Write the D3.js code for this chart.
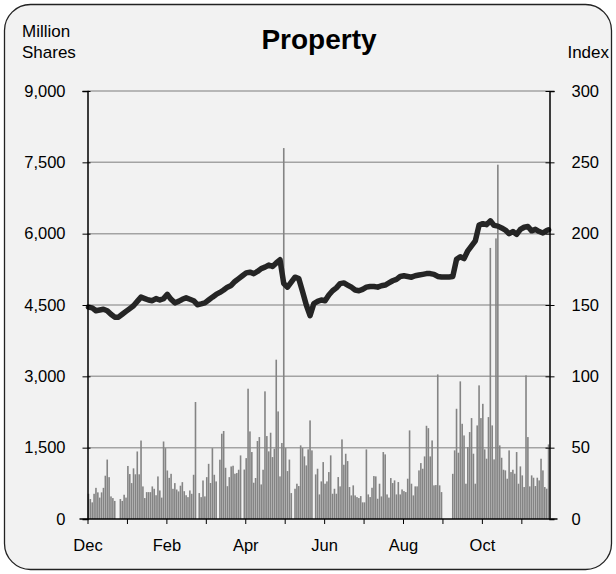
<!DOCTYPE html>
<html><head><meta charset="utf-8">
<script src="https://cdn.jsdelivr.net/npm/d3@7"></script>
<style>
html,body{margin:0;padding:0;background:#fff;}
svg text{font-family:"Liberation Sans",Arial,sans-serif;fill:#000;}
</style></head>
<body>
<svg id="chart" width="616" height="574"></svg>
<script>
// ---------- DATA ----------
const title = "Property";
const leftTicks = [0,1500,3000,4500,6000,7500,9000];
const rightTicks = [0,50,100,150,200,250,300];
const monthNames = ["Dec","Jan","Feb","Mar","Apr","May","Jun","Jul","Aug","Sep","Oct","Nov"];
const monthLabelsShown = ["Dec","Feb","Apr","Jun","Aug","Oct"];
const monthStartDay = [0,21,42,63,84,105,126,147,168,189,210,231];
const nDays = 246;
// daily turnover, million shares
const volume = [
530,420,350,530,655,560,450,560,655,910,1250,880,475,440,380,0,0,420,380,510,
450,1115,945,755,1065,940,1420,940,1650,685,440,565,565,565,685,635,500,895,600,450,
1630,1490,1020,865,950,635,755,620,580,700,775,585,500,460,600,530,930,2460,0,545,
460,810,475,880,1160,757,1490,930,790,0,1247,1793,1850,1077,690,880,1105,1120,952,966,
1036,1337,0,1040,1280,2740,1842,1408,763,862,1640,1723,727,1036,2684,1744,1422,1814,1302,1478,
3350,2262,896,1598,7800,1492,1008,1250,545,0,636,742,693,1548,1492,1317,1127,1464,2073,1443,
0,938,1057,517,791,1197,742,791,987,1338,531,636,531,882,686,1674,1141,1372,1218,672,
496,707,496,461,440,482,350,350,1464,517,461,657,903,896,426,742,475,1408,1359,517,
450,861,756,812,517,777,517,622,587,566,847,1863,742,496,686,686,1022,1176,1057,1316,
1960,1910,1316,1652,707,714,3040,707,566,0,0,0,0,0,950,1443,2318,1394,2894,2002,
1757,742,1513,1828,2122,1373,742,1968,2810,2122,2422,1464,1268,2143,5700,1968,1254,5900,7450,1548,
1288,1036,1022,847,1443,987,1036,952,1408,742,1106,917,672,3020,1723,686,917,868,693,868,
812,1267,1022,672,637,1568
];
// index level, sampled every second trading day (last = final day)
const indexDays = d3.range(0, 246, 2).concat([245]);
const indexValues = [
148.5,148,146,146.5,147,146,143.5,141.5,141.5,143.5,145.5,147.5,149.5,152.5,155.5,154.5,153.5,153,154.5,153.5,
154.5,157.5,154,151.5,152.5,154,155,154,153,150.2,150.8,151.5,153.5,155.5,157.4,158.8,160.5,162.5,163.7,166.5,
168.5,170.5,172.5,173,172,173.5,175.5,176.5,178,177,179.5,181.7,165,162.5,166,169.5,168.5,159.5,150,142.5,
151,152.5,153.5,153,157,160,162,165,165.5,164,162.5,160.5,160,161,162.5,163,163,162.5,163.5,164,
165.5,167,168,170,170.5,170,169.5,170.5,171,171.5,172,172,171.5,170,169.6,169.6,169.6,170,182,183.8,
182.5,188,191.5,195,206,207,206.3,209,205.8,205.3,204,202.5,200,201.5,199.5,203,204.5,205,202,203,
201.5,200.5,202.2,202.7
];

// ---------- LAYOUT ----------
const svg = d3.select("#chart");
const L = 87.5, R = 549.5, T = 91, B = 519;

// frame
svg.append("rect").attr("x",4.5).attr("y",4.5).attr("width",607).attr("height",565)
  .attr("rx",26).attr("ry",26).attr("fill","#f2f2f2").attr("stroke","#222").attr("stroke-width",1.3);

const x = d3.scaleBand().domain(d3.range(nDays)).range([L,R]).paddingInner(0.15).paddingOuter(0.08);
const xDay = d3.scaleLinear().domain([0,nDays]).range([L,R]);
const yL = d3.scaleLinear().domain([0,9000]).range([B,T]);
const yR = d3.scaleLinear().domain([0,300]).range([B,T]);

// gridlines
svg.append("g").selectAll("line").data(leftTicks.filter(d=>d>0)).join("line")
  .attr("x1",L).attr("x2",R).attr("y1",d=>yL(d)).attr("y2",d=>yL(d))
  .attr("stroke","#a3a3a3").attr("stroke-width",1.5);

// bars
svg.append("g").selectAll("rect").data(volume).join("rect")
  .attr("x",(d,i)=>x(i)).attr("width",x.bandwidth())
  .attr("y",d=>yL(d)).attr("height",d=>B-yL(d))
  .attr("fill","#848484");

// line
const line = d3.line().x((d,i)=>xDay(indexDays[i]+0.5)).y(d=>yR(d)).curve(d3.curveLinear);
svg.append("path").datum(indexValues).attr("d",line)
  .attr("fill","none").attr("stroke","#252525").attr("stroke-width",5.5)
  .attr("stroke-linejoin","round").attr("stroke-linecap","round");

// left axis
const gl = svg.append("g").attr("transform",`translate(${L},0)`)
  .call(d3.axisLeft(yL).tickValues(leftTicks).tickFormat(d3.format(",")).tickSize(5).tickPadding(17));
gl.select(".domain").attr("stroke","#000").attr("stroke-width",1.5);
gl.selectAll(".tick line").attr("stroke","#000").attr("x2",-5).attr("x1",3);
gl.selectAll("text").attr("font-size",16.5);
gl.selectAll(".tick").filter(d=>d===0).select("line").remove();

// right axis
const gr = svg.append("g").attr("transform",`translate(${R},0)`)
  .call(d3.axisRight(yR).tickValues(rightTicks).tickSize(5).tickPadding(17));
gr.select(".domain").attr("stroke","#000").attr("stroke-width",1.5);
gr.selectAll(".tick line").attr("stroke","#000").attr("x2",5).attr("x1",-4);
gr.selectAll("text").attr("font-size",16.5);
gr.selectAll(".tick").filter(d=>d===0).select("line").remove();

// bottom axis
const gb = svg.append("g").attr("transform",`translate(0,${B})`)
  .call(d3.axisBottom(xDay).tickValues(monthStartDay)
    .tickFormat((d,i)=>monthLabelsShown.includes(monthNames[i])?monthNames[i]:"")
    .tickSize(5).tickPadding(15));
gb.select(".domain").attr("stroke","#000").attr("stroke-width",1.5).attr("d",`M${L-8},0H${R+8}`);
gb.selectAll(".tick line").attr("stroke","#000");
gb.selectAll("text").attr("font-size",16.5);

// titles
svg.append("text").attr("x",319).attr("y",49).attr("text-anchor","middle")
  .attr("font-size",28).attr("font-weight","bold").text(title);
svg.append("text").attr("x",22).attr("y",37).attr("font-size",17).text("Million");
svg.append("text").attr("x",22).attr("y",58).attr("font-size",17).text("Shares");
svg.append("text").attr("x",609).attr("y",58).attr("text-anchor","end").attr("font-size",17).text("Index");
</script>
</body></html>
